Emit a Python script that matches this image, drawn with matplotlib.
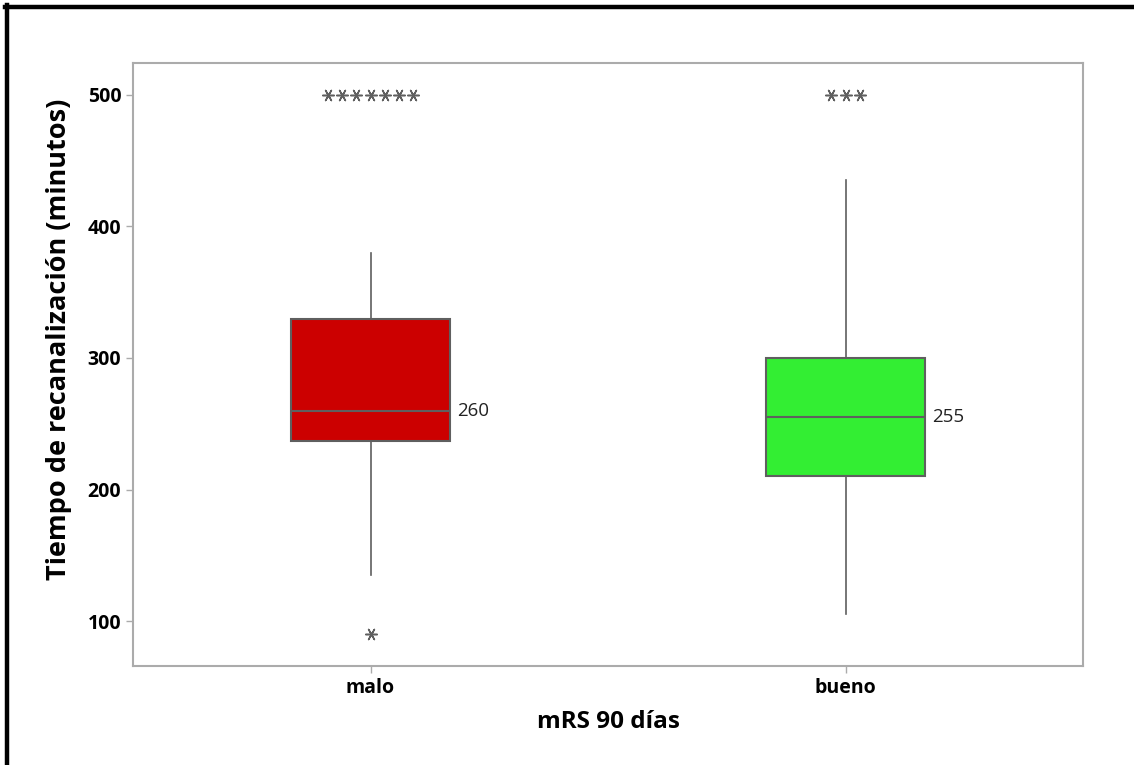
import matplotlib
matplotlib.use("Agg")
import matplotlib.pyplot as plt
from matplotlib.lines import Line2D

plt.rcParams['font.family'] = ['Open Sans', 'DejaVu Sans']

# ---- data ----
categories = ["malo", "bueno"]
q1_vals = [237, 210]
medians = [260, 255]
q3_vals = [330, 300]
whisker_low = [135, 105]
whisker_high = [380, 435]
outliers_high = [[500, 500, 500, 500, 500, 500, 500], [500, 500, 500]]
outliers_low = [[90], []]
median_labels = ["260", "255"]

box_colors = ["#CC0000", "#33EE33"]
edge_gray = "#5F5F5F"
spine_gray = "#ABABAB"

fig = plt.figure(figsize=(11.34, 7.65), dpi=100)
ax = fig.add_axes([133/1134, 1 - 666/765, (1083-133)/1134, (666-63)/765])

positions = [1, 2]
stats = []
for i, c in enumerate(categories):
    stats.append(dict(label=c, med=medians[i], q1=q1_vals[i], q3=q3_vals[i],
                      whislo=whisker_low[i], whishi=whisker_high[i], fliers=[]))

bp = ax.bxp(stats, positions=positions, widths=0.334, patch_artist=True,
            showcaps=False, showfliers=False,
            boxprops=dict(edgecolor=edge_gray, linewidth=1.5),
            medianprops=dict(color=edge_gray, linewidth=1.5),
            whiskerprops=dict(color=edge_gray, linewidth=1.2))
for patch, col in zip(bp['boxes'], box_colors):
    patch.set_facecolor(col)

# outliers (ties drawn side by side)
step = 0.0301
for i, pos in enumerate(positions):
    hi = outliers_high[i]
    n = len(hi)
    xs = [pos + (k - (n - 1) / 2) * step for k in range(n)]
    ax.scatter(xs, hi, marker=(6, 2, 90), s=70, color=edge_gray, linewidths=1.1, zorder=3)
    lo = outliers_low[i]
    if lo:
        ax.scatter([pos] * len(lo), lo, marker=(6, 2, 90), s=70, color=edge_gray,
                   linewidths=1.1, zorder=3)

# median labels
for i, pos in enumerate(positions):
    ax.annotate(median_labels[i], xy=(pos + 0.334 / 2, medians[i]), xytext=(5, 0),
                textcoords='offset points', va='center', ha='left', fontsize=13.5,
                color='#222222')

ax.set_xlim(0.5, 2.5)
ax.set_ylim(65.8, 524.3)
ax.set_yticks([100, 200, 300, 400, 500])
ax.set_xticks(positions)
ax.set_xticklabels(categories)

for s in ax.spines.values():
    s.set_color(spine_gray)
    s.set_linewidth(1.5)
ax.tick_params(axis='both', colors=spine_gray, length=5, width=1,
               labelcolor='black', labelsize=14)
for lab in ax.get_yticklabels() + ax.get_xticklabels():
    lab.set_fontweight('bold')

ax.set_ylabel("Tiempo de recanalización (minutos)", fontsize=19.5, fontweight='bold',
              labelpad=11)
ax.yaxis.label.set_y(0.542)
ax.set_xlabel("mRS 90 días", fontsize=17.5, fontweight='bold', labelpad=9)

# outer frame (top and left black border)
fig.add_artist(Line2D([5/1134, 1.0], [1 - 7/765, 1 - 7/765], transform=fig.transFigure,
                      color='black', linewidth=3.2))
fig.add_artist(Line2D([7/1134, 7/1134], [0.0, 1 - 5/765], transform=fig.transFigure,
                      color='black', linewidth=3.2))

fig.savefig("out.png", dpi=100)
